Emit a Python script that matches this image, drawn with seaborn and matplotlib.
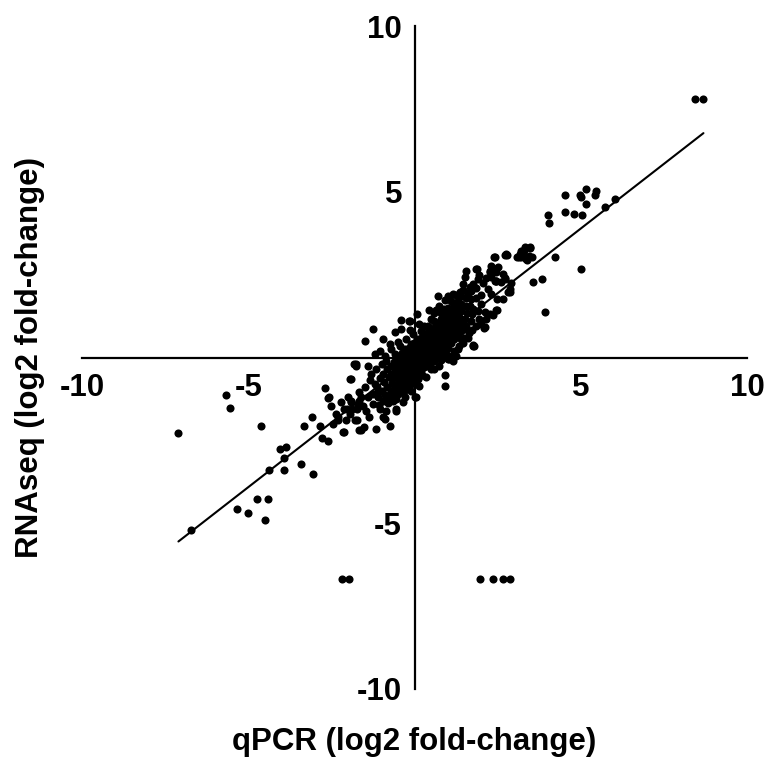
import pandas as pd
import seaborn as sns
import matplotlib.pyplot as plt

# dense centre of the cloud (qPCR, RNAseq)
core = [
    (-1.1, -1.2), (-1.12, -0.9), (-1.05, -0.62), (-1.08, -1.42),
    (-0.95, -1.3), (-0.97, -1.02), (-0.92, -0.75), (-0.96, -0.5), (-0.9, -1.12),
    (-0.8, -1.15), (-0.82, -0.9), (-0.78, -0.6), (-0.84, -0.35), (-0.8, -1.37),
    (-0.7, -1.0), (-0.68, -0.76), (-0.72, -0.5), (-0.7, -0.26), (-0.66, -1.22),
    (-0.6, -1.05), (-0.62, -0.84), (-0.58, -0.6), (-0.6, -0.4), (-0.61, -0.15), (-0.57, -1.25),
    (-0.5, -0.9), (-0.48, -0.7), (-0.52, -0.45), (-0.5, -0.25), (-0.47, 0.0), (-0.5, -1.1),
    (-0.4, -0.95), (-0.42, -0.75), (-0.38, -0.55), (-0.4, -0.35), (-0.41, -0.1), (-0.37, 0.15),
    (-0.3, -0.8), (-0.28, -0.6), (-0.32, -0.4), (-0.3, -0.2), (-0.27, 0.0), (-0.3, 0.25), (-0.31, -1.0),
    (-0.2, -0.7), (-0.22, -0.5), (-0.18, -0.3), (-0.2, -0.1), (-0.21, 0.1), (-0.17, 0.3), (-0.2, -0.9),
    (-0.1, -0.6), (-0.08, -0.4), (-0.12, -0.2), (-0.1, 0.0), (-0.09, 0.2), (-0.11, 0.4), (-0.1, -0.8),
    (0.0, -0.55), (0.02, -0.35), (-0.02, -0.15), (0.0, 0.05), (0.01, 0.25), (-0.01, 0.45), (0.02, -0.75),
    (0.1, -0.45), (0.12, -0.25), (0.08, -0.05), (0.1, 0.15), (0.11, 0.35), (0.09, 0.55), (0.1, -0.65),
    (0.2, -0.4), (0.18, -0.2), (0.22, 0.0), (0.2, 0.2), (0.19, 0.4), (0.21, 0.6), (0.2, 0.8),
    (0.3, -0.3), (0.32, -0.1), (0.28, 0.1), (0.3, 0.3), (0.31, 0.5), (0.29, 0.7),
    (0.4, -0.25), (0.42, -0.05), (0.38, 0.15), (0.4, 0.35), (0.41, 0.55), (0.39, 0.75), (0.4, 0.95),
    (0.5, -0.15), (0.48, 0.05), (0.52, 0.25), (0.5, 0.45), (0.49, 0.65), (0.51, 0.85),
    (0.6, -0.1), (0.62, 0.1), (0.58, 0.3), (0.6, 0.5), (0.61, 0.7), (0.59, 0.9), (0.6, 1.1),
    (0.7, 0.0), (0.68, 0.2), (0.72, 0.4), (0.7, 0.6), (0.69, 0.8), (0.71, 1.0),
    (0.8, 0.1), (0.82, 0.3), (0.78, 0.5), (0.8, 0.7), (0.81, 0.9), (0.79, 1.15), (0.8, 1.35),
    (0.9, 0.2), (0.88, 0.4), (0.92, 0.6), (0.9, 0.8), (0.89, 1.0), (0.91, 1.2),
    (1.0, 0.3), (1.02, 0.5), (0.98, 0.7), (1.0, 0.9), (1.01, 1.1), (0.99, 1.3), (1.0, 1.5),
    (1.1, 0.45), (1.08, 0.65), (1.12, 0.85), (1.1, 1.05), (1.09, 1.25), (1.11, 1.45),
    (1.2, 0.55), (1.22, 0.75), (1.18, 0.95), (1.2, 1.15), (1.21, 1.35), (1.19, 1.6),
    (1.3, 0.7), (1.28, 0.9), (1.32, 1.1), (1.3, 1.3), (1.29, 1.5), (1.31, 1.7),
    (1.4, 0.8), (1.42, 1.0), (1.38, 1.2), (1.4, 1.4), (1.41, 1.6), (1.39, 1.85),
    (1.55, 0.95), (1.53, 1.15), (1.57, 1.35), (1.55, 1.55), (1.54, 1.8),
    (1.7, 1.1), (1.72, 1.3), (1.68, 1.55), (1.7, 1.75), (1.71, 2.0),
]

# looser fringe around the centre
fringe = [
    (-0.6, 0.1), (-0.45, 0.35), (-0.25, 0.55), (-0.05, 0.7), (0.15, 1.0), (0.3, 0.95),
    (0.5, 1.15), (0.6, 1.35), (0.75, 1.55), (0.9, 1.45), (1.1, 1.7), (1.25, 1.9),
    (1.45, 2.05), (1.6, 1.95), (1.85, 2.1), (2.0, 1.9), (1.85, 1.8), (2.05, 2.25),
    (1.95, 2.5), (2.15, 2.4),
    (-0.3, -1.2), (-0.1, -1.0), (0.15, -0.85), (0.35, -0.6), (0.6, -0.35), (0.75, -0.25),
    (1.05, 0.05), (1.3, 0.25), (1.5, 0.6), (1.65, 0.75), (1.85, 0.95), (1.9, 1.4),
    (2.0, 1.6), (1.75, 1.45),
]

# lower-left arm
lower_arm = [
    (-7.1, -2.28), (-5.67, -1.14), (-5.55, -1.52), (-4.63, -2.08), (-6.73, -5.19),
    (-5.34, -4.57), (-5.01, -4.68), (-4.74, -4.27), (-4.42, -4.26), (-4.51, -4.91),
    (-4.38, -3.40), (-4.06, -2.77), (-3.86, -2.70), (-3.92, -3.02), (-3.91, -3.38),
    (-3.42, -3.22), (-3.06, -3.50), (-3.31, -2.07), (-3.07, -1.80), (-2.85, -2.08),
    (-2.77, -2.42), (-2.59, -2.52), (-2.68, -0.91), (-2.59, -1.21), (-2.52, -1.47),
    (-2.29, -1.88), (-2.29, -1.78), (-2.12, -2.25), (-1.91, -0.66), (-1.75, -0.19),
    (-1.76, -0.27), (-1.90, -1.30), (-2.03, -1.55), (-1.88, -1.55), (-1.73, -1.55),
    (-1.73, -1.90), (-1.68, -2.18), (-1.26, 0.86), (-1.48, 0.51), (-0.42, 1.13),
    (-0.15, 1.11), (0.07, 1.30), (-0.75, 0.41), (-1.94, -0.64), (-2.56, -1.19),
    (-1.66, -1.30), (-1.36, -1.80), (-0.95, -1.80), (-0.55, -1.55), (-0.35, -1.35),
    (0.05, -1.19), (-1.81, -0.19), (-1.41, -0.27), (-1.33, -0.69), (-0.98, -0.19),
    (-1.66, -1.04), (-1.26, -1.10), (-1.91, -1.35), (-2.11, -1.55), (-1.56, -1.45),
    (-1.26, -1.40), (-0.80, -1.35), (-0.55, -1.60), (-0.45, -1.04), (-1.78, -1.90),
    (-0.90, -1.85), (-2.16, -2.25), (-1.61, -2.20), (-1.51, -2.10), (-1.15, -2.15),
    (-0.75, -2.08), (0.0, -1.19), (-0.60, 0.76), (-0.40, 0.86), (-0.13, 0.84),
    (-0.50, 0.46), (-0.17, 1.11), (-1.5, -0.9), (-1.4, -1.2), (-1.2, -0.8),
    (-1.1, -1.0), (-1.6, -1.2), (-1.7, -1.4), (-1.3, -0.5), (-1.15, -0.35),
    (-2.0, -1.2), (-2.2, -1.35), (-2.35, -1.7), (-2.05, -1.9), (-1.95, -1.7),
    (-1.45, -1.6), (-1.05, -1.55), (-0.85, -1.6), (-0.65, -1.3), (-2.45, -2.0),
    (-1.05, 0.2), (-0.9, 0.05), (-0.85, -0.1), (-1.2, 0.1), (-0.7, 0.25), (-0.95, 0.55),
]

# upper-right arm
upper_arm = [
    (0.23, -0.54), (0.5, -0.31), (0.93, -0.52), (0.8, -0.09), (1.03, -0.04),
    (0.2, -0.54), (0.5, -0.34), (0.93, -0.86), (1.0, -0.04), (1.76, 0.36), (1.78, 0.36),
    (1.2, 0.2), (1.35, 0.35), (1.15, -0.1), (0.95, 0.1), (1.45, 0.45), (1.25, 0.05),
    (2.38, 3.04), (2.31, 2.77), (2.36, 2.67), (2.28, 2.57), (1.51, 2.42), (1.46, 2.22),
    (1.91, 2.37), (2.44, 2.32), (1.76, 2.22), (1.66, 2.12), (2.21, 2.07), (2.31, 1.92),
    (2.49, 1.77), (1.15, 1.92), (1.36, 1.97), (0.93, 1.72), (0.45, 1.42), (0.65, 1.42),
    (2.11, 1.36), (2.48, 1.42), (2.16, 1.16), (1.94, 1.16), (2.01, 1.01), (2.08, 0.89),
    (1.74, 0.83), (1.61, 0.59), (1.76, 0.39), (1.41, 0.56), (1.56, 0.86),
    (2.26, 2.62), (2.46, 2.67), (2.31, 2.42), (2.71, 2.37), (2.61, 2.27), (2.91, 2.24),
    (2.86, 2.07), (2.81, 1.97), (2.74, 3.12), (2.51, 2.72), (2.44, 2.57), (2.71, 2.40),
    (2.41, 2.32), (2.86, 1.97), (2.66, 1.77), (2.46, 1.42), (2.26, 1.31),
    (2.73, 3.10), (1.56, 2.60), (1.86, 2.67), (2.66, 2.52), (2.46, 2.32), (2.36, 1.27),
    (2.11, 0.91), (0.70, 1.87), (1.0, 1.87), (2.77, 3.09), (2.42, 3.02), (1.89, 2.67),
    (3.19, 3.20), (3.29, 3.24), (3.47, 3.30), (3.52, 3.02), (3.39, 2.94), (3.14, 3.02),
    (3.24, 3.12), (3.08, 3.02), (3.46, 3.32), (3.31, 3.32), (3.26, 3.17), (3.16, 3.12),
    (3.21, 3.02), (3.36, 2.97), (3.44, 3.07),
    (4.54, 4.90), (4.97, 4.90), (5.0, 4.83), (5.16, 5.07), (5.45, 5.03), (5.43, 4.90),
    (5.16, 4.64), (4.52, 4.40), (4.79, 4.33), (5.04, 4.31), (4.0, 4.29), (4.06, 4.05),
    (4.24, 3.02), (5.0, 2.67), (3.55, 2.27), (3.83, 2.36), (3.91, 1.36),
    (6.02, 4.78), (5.72, 4.55), (8.43, 7.79), (8.69, 7.79),
]

# dropouts at the bottom
dropouts = [
    (-2.18, -6.69), (-1.98, -6.69), (1.97, -6.69), (2.36, -6.69), (2.66, -6.69), (2.86, -6.69),
]

ticks = [-10, -5, 5, 10]

df = pd.DataFrame(core + fringe + lower_arm + upper_arm + dropouts, columns=['qpcr', 'rnaseq'])

sns.set_style('white')
plt.rcParams['font.family'] = ['Liberation Sans', 'DejaVu Sans']
plt.rcParams['font.weight'] = 'bold'
plt.rcParams['axes.unicode_minus'] = False
plt.rcParams['text.color'] = 'black'

fig = plt.figure(figsize=(7.68, 7.61), dpi=100)
ax = fig.add_axes([82 / 768, 72 / 761, 665 / 768, 663 / 761])

sns.scatterplot(data=df, x='qpcr', y='rnaseq', color='black', s=34, linewidth=0, ax=ax)
sns.regplot(data=df, x='qpcr', y='rnaseq', ci=None, scatter=False, color='black',
            line_kws={'linewidth': 1.5}, ax=ax)

ax.set_xlim(-10, 10)
ax.set_ylim(-10, 10)
ax.set_xticks(ticks)
ax.set_yticks(ticks)
ax.set_xlabel('')
ax.set_ylabel('')

ax.spines['left'].set_position('zero')
ax.spines['bottom'].set_position('zero')
ax.spines['top'].set_visible(False)
ax.spines['right'].set_visible(False)
for s in ['left', 'bottom']:
    ax.spines[s].set_linewidth(1.6)
    ax.spines[s].set_color('black')

ax.tick_params(axis='both', direction='out', length=6, width=1.6, labelsize=22.5, colors='black')
ax.tick_params(axis='x', pad=5)
ax.tick_params(axis='y', pad=3)
for lab in ax.get_xticklabels() + ax.get_yticklabels():
    lab.set_fontweight('bold')

fig.text(414 / 768, 1 - 742 / 761, 'qPCR (log2 fold-change)', ha='center', va='center',
         fontsize=22.5, fontweight='bold', color='black')
fig.text(30 / 768, 1 - 357 / 761, 'RNAseq (log2 fold-change)', ha='center', va='center',
         rotation=90, fontsize=22.5, fontweight='bold', color='black')

fig.savefig('out.png', dpi=100)
